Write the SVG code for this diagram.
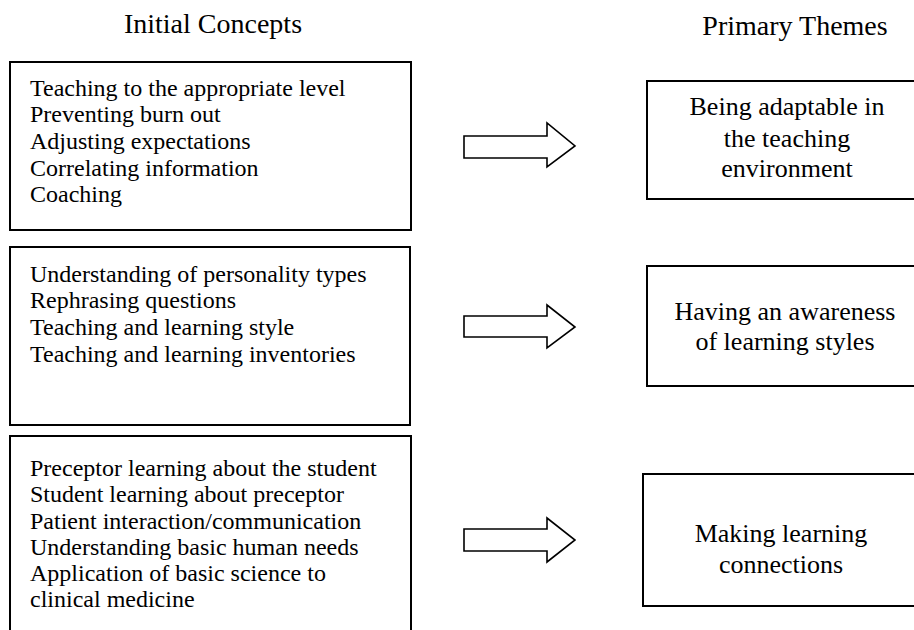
<svg xmlns="http://www.w3.org/2000/svg" width="914" height="630" viewBox="0 0 914 630">
<style>
.box{fill:#fff;stroke:#000;stroke-width:2}
.arr{fill:#fff;stroke:#000;stroke-width:1.6;stroke-linejoin:miter}
.t{font-family:"Liberation Serif","Times New Roman",serif;fill:#000}
.title{font-size:28px;text-anchor:middle}
.c{font-size:24px}
.th{font-size:26px;text-anchor:middle}
</style>
<rect width="914" height="630" fill="#fff"/>
<text class="t title" x="213" y="33">Initial Concepts</text>
<text class="t title" x="795" y="35">Primary Themes</text>

<g id="concepts1">
<rect class="box" x="10" y="62" width="401" height="168"/>
<text class="t c" x="30" y="96">Teaching to the appropriate level</text>
<text class="t c" x="30" y="122">Preventing burn out</text>
<text class="t c" x="30" y="149">Adjusting expectations</text>
<text class="t c" x="30" y="176">Correlating information</text>
<text class="t c" x="30" y="202">Coaching</text>
</g>
<g id="concepts2">
<rect class="box" x="10" y="247" width="400" height="178"/>
<text class="t c" x="30" y="282">Understanding of personality types</text>
<text class="t c" x="30" y="308">Rephrasing questions</text>
<text class="t c" x="30" y="335">Teaching and learning style</text>
<text class="t c" x="30" y="362">Teaching and learning inventories</text>
</g>
<g id="concepts3">
<path class="box" d="M10,640 V436 H411 V640"/>
<text class="t c" x="30" y="476">Preceptor learning about the student</text>
<text class="t c" x="30" y="502">Student learning about preceptor</text>
<text class="t c" x="30" y="529">Patient interaction/communication</text>
<text class="t c" x="30" y="555">Understanding basic human needs</text>
<text class="t c" x="30" y="581">Application of basic science to</text>
<text class="t c" x="30" y="607">clinical medicine</text>
</g>

<g id="theme1">
<rect class="box" x="647" y="81" width="280" height="118"/>
<text class="t th" x="787" y="115">Being adaptable in</text>
<text class="t th" x="787" y="147">the teaching</text>
<text class="t th" x="787" y="177">environment</text>
</g>
<g id="theme2">
<rect class="box" x="647" y="266" width="280" height="120"/>
<text class="t th" x="785" y="320">Having an awareness</text>
<text class="t th" x="785" y="350">of learning styles</text>
</g>
<g id="theme3">
<rect class="box" x="643" y="474" width="284" height="132"/>
<text class="t th" x="781" y="542">Making learning</text>
<text class="t th" x="781" y="573">connections</text>
</g>

<g id="connectors">
<path class="arr" d="M464,136 H547 V123 L575,146 L547,167 V158 H464 Z"/>
<path class="arr" d="M464,316 H547 V305 L575,327 L547,348 V337 H464 Z"/>
<path class="arr" d="M464,529 H547 V518 L575,540 L547,562 V551 H464 Z"/>
</g>
</svg>
